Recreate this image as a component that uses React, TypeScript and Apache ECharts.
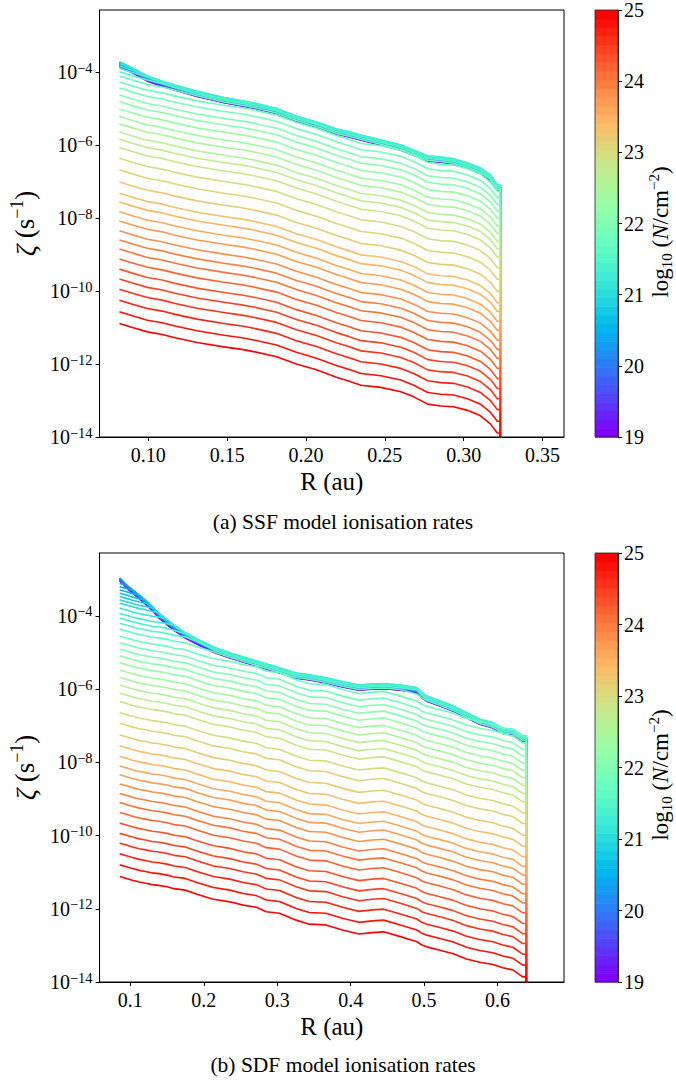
import React, { useEffect, useRef } from "react";
import * as echarts from "echarts";

// ---- data (log10 of ionisation rate) ----
const LEVELS = [
  19, 19.125, 19.25, 19.375, 19.5, 19.625, 19.75, 19.875, 20, 20.125, 20.25, 20.375, 20.5,
  20.625, 20.75, 20.875, 21, 21.125, 21.25, 21.375, 21.5, 21.625, 21.75, 21.875, 22, 22.125,
  22.25, 22.375, 22.5, 22.625, 22.75, 22.875, 23, 23.125, 23.25, 23.375, 23.5, 23.625, 23.75,
  23.875, 24, 24.125, 24.25, 24.375, 24.5, 24.625, 24.75, 24.875, 25,
];

// panel (a) SSF
const R_A = [
  0.0817, 0.0899, 0.0994, 0.1088, 0.117, 0.1309, 0.1479, 0.1593, 0.1668, 0.1813, 0.1939,
  0.2066, 0.2192, 0.2274, 0.2349, 0.2475, 0.2601, 0.2683, 0.2772, 0.2854, 0.2936, 0.3024,
  0.3106, 0.3169, 0.3213,
];
const ENV_A = [
  -3.71, -3.88, -4.11, -4.25, -4.36, -4.53, -4.7, -4.79, -4.85, -5.0, -5.21, -5.37, -5.56,
  -5.64, -5.73, -5.86, -6.0, -6.14, -6.3, -6.33, -6.38, -6.49, -6.63, -6.82, -7.1,
];
const BASE_A = [
  -10.89, -11.0, -11.12, -11.19, -11.28, -11.41, -11.53, -11.6, -11.66, -11.8, -12.0, -12.16,
  -12.36, -12.47, -12.58, -12.64, -12.76, -12.9, -13.1, -13.15, -13.17, -13.27, -13.42,
  -13.64, -13.89,
];
const LEFT_A = [
  -3.7, -3.7, -3.7, -3.7, -3.7, -3.7, -3.7, -3.7, -3.7, -3.7, -3.7, -3.7, -3.7, -3.7, -3.7,
  -3.7, -3.7, -3.78, -3.84, -3.9, -3.99, -4.11, -4.27, -4.44, -4.63, -4.81, -5.01, -5.22,
  -5.42, -5.64, -5.84, -6.07, -6.36, -6.68, -7.01, -7.32, -7.56, -7.83, -8.08, -8.35, -8.6,
  -8.85, -9.12, -9.4, -9.67, -9.95, -10.25, -10.57, -10.89,
];
const EDGE_A = 0.3232;

// panel (b) SDF
const R_B = [
  0.0855, 0.0946, 0.1027, 0.1122, 0.1207, 0.1297, 0.1388, 0.15, 0.1595, 0.1747, 0.1905,
  0.2131, 0.2355, 0.2536, 0.2716, 0.2851, 0.3031, 0.3257, 0.3436, 0.3662, 0.3888, 0.4112,
  0.4293, 0.445, 0.4676, 0.4901, 0.4969, 0.5036, 0.5216, 0.5396, 0.5577, 0.5757, 0.5936,
  0.6072, 0.6207, 0.6342,
];
const ENV_B = [
  -2.9, -3.09, -3.23, -3.39, -3.54, -3.71, -3.91, -4.1, -4.25, -4.46, -4.63, -4.85, -5.01,
  -5.12, -5.23, -5.31, -5.42, -5.56, -5.61, -5.69, -5.8, -5.89, -5.86, -5.85, -5.89, -5.96,
  -6.1, -6.19, -6.32, -6.46, -6.64, -6.82, -6.92, -7.07, -7.1, -7.28,
];
const BASE_B = [
  -11.12, -11.17, -11.22, -11.27, -11.3, -11.34, -11.36, -11.4, -11.45, -11.49, -11.6,
  -11.74, -11.81, -11.9, -11.96, -12.08, -12.12, -12.31, -12.42, -12.44, -12.58, -12.69,
  -12.65, -12.63, -12.76, -12.9, -12.99, -13.04, -13.13, -13.23, -13.37, -13.46, -13.52,
  -13.61, -13.67, -13.86,
];
const LEFT_B = [
  -2.9, -2.9, -2.9, -2.9, -2.9, -2.9, -2.9, -2.9, -2.9, -2.9, -3.11, -3.2, -3.29, -3.38,
  -3.47, -3.56, -3.65, -3.79, -3.93, -4.06, -4.2, -4.36, -4.55, -4.73, -4.91, -5.09, -5.28,
  -5.48, -5.68, -5.89, -6.11, -6.34, -6.64, -6.93, -7.25, -7.55, -7.84, -8.1, -8.34, -8.59,
  -8.85, -9.1, -9.37, -9.66, -9.94, -10.21, -10.5, -10.8, -11.12,
];
const EDGE_B = 0.6392;

// depth (dex) of each low-column line inside the saturated top band
const BAND = [
  0.14, 0.13, 0.12, 0.11, 0.1, 0.09, 0.08, 0.08, 0.07, 0.06, 0.05, 0.04, 0.04, 0.03, 0.03,
  0.02, 0.01, 0.0, 0.0, 0.03, 0.07, 0.12, 0, 0, 0, 0, 0, 0, 0, 0, 0, 0, 0, 0, 0, 0, 0, 0, 0,
  0, 0, 0, 0, 0, 0, 0, 0, 0, 0,
];

const X_TICKS_A = [0.1, 0.15, 0.2, 0.25, 0.3, 0.35];
const X_TICKS_B = [0.1, 0.2, 0.3, 0.4, 0.5, 0.6];
const Y_TICKS = [-14, -12, -10, -8, -6, -4];
const FLOOR = -16;

// ---- styling helpers ----
const FONT = "'Liberation Serif', 'DejaVu Serif', serif";
const MINUS = "\u2212";

function rainbow(t: number): string {
  const r = Math.abs(2 * t - 0.5);
  const g = Math.sin(Math.PI * t);
  const b = Math.cos((Math.PI * t) / 2);
  const c = (v: number) => Math.round(Math.max(0, Math.min(1, v)) * 255);
  return `rgb(${c(r)},${c(g)},${c(b)})`;
}

function buildLines(R: number[], env: number[], base: number[], left: number[], edge: number) {
  return LEVELS.map((_, j) => {
    const off = left[j] - base[0];
    const pts: number[][] = R.map((r, i) => [r, Math.min(env[i] - BAND[j], base[i] + off)]);
    // outer disc edge: every profile ends in a vertical drop at the same radius
    pts.push([edge, pts[pts.length - 1][1]]);
    pts.push([edge, FLOOR]);
    return pts;
  });
}

function lineSeries(lines: number[][][], axis: number) {
  return lines.map((data, j) => ({
    type: "line",
    xAxisIndex: axis,
    yAxisIndex: axis,
    data,
    symbol: "none",
    showSymbol: false,
    silent: true,
    clip: true,
    lineStyle: { width: 1.6, color: rainbow(j / (LEVELS.length - 1)), join: "round" },
    itemStyle: { color: rainbow(j / (LEVELS.length - 1)) },
  }));
}

const txt = { fontFamily: FONT, color: "#000" };

function plotX(grid: number, min: number, max: number, ticks: number[], dec: number) {
  return {
    gridIndex: grid,
    type: "value",
    min,
    max,
    axisLine: { show: true, onZero: false, lineStyle: { color: "#000", width: 1 } },
    axisTick: { show: true, length: 4, customValues: ticks, lineStyle: { color: "#000" } },
    axisLabel: {
      customValues: ticks,
      formatter: (v: number) => v.toFixed(dec),
      ...txt,
      fontSize: 20,
      margin: 8,
    },
    splitLine: { show: false },
    name: "R (au)",
    nameLocation: "middle",
    nameGap: 32,
    nameTextStyle: { ...txt, fontSize: 25 },
  };
}

function plotY(grid: number, max: number) {
  return {
    gridIndex: grid,
    type: "value",
    min: -14,
    max,
    axisLine: { show: true, onZero: false, lineStyle: { color: "#000", width: 1 } },
    axisTick: { show: true, length: 4, customValues: Y_TICKS, lineStyle: { color: "#000" } },
    axisLabel: {
      customValues: Y_TICKS,
      formatter: (v: number) => `{b|10}{e|${MINUS}${Math.abs(v)}}`,
      margin: 7,
      rich: {
        b: { ...txt, fontSize: 20, lineHeight: 24 },
        e: { ...txt, fontSize: 14.5, verticalAlign: "top" },
      },
    },
    splitLine: { show: false },
    name: `{z|ζ}{t| (s}{p|${MINUS}1}{t|)}`,
    nameLocation: "middle",
    nameRotate: 90,
    nameGap: 56,
    nameTextStyle: {
      ...txt,
      fontSize: 27,
      rich: {
        z: { ...txt, fontSize: 28, fontStyle: "italic", lineHeight: 34 },
        t: { ...txt, fontSize: 27, lineHeight: 34 },
        p: { ...txt, fontSize: 18, verticalAlign: "top" },
      },
    },
  };
}

function cbX(grid: number) {
  return { gridIndex: grid, type: "value", min: 0, max: 1, show: false };
}

function cbY(grid: number) {
  return {
    gridIndex: grid,
    type: "value",
    min: 19,
    max: 25,
    interval: 1,
    position: "right",
    axisLine: { show: true, onZero: false, lineStyle: { color: "#000", width: 0.8 } },
    axisTick: { show: true, length: 4, lineStyle: { color: "#000" } },
    axisLabel: { ...txt, fontSize: 20, margin: 6 },
    splitLine: { show: false },
  };
}

function colorbarSeries(axis: number) {
  const lo0 = LEVELS[0];
  const span = LEVELS[LEVELS.length - 1] - LEVELS[0];
  const n = LEVELS.length;
  return {
    type: "custom",
    xAxisIndex: axis,
    yAxisIndex: axis,
    silent: true,
    clip: false,
    data: LEVELS.map((_, j) => [j]),
    renderItem: (_p: any, api: any) => {
      const j = api.value(0);
      const a = api.coord([0, lo0 + (span * j) / n]);
      const b = api.coord([1, lo0 + (span * (j + 1)) / n]);
      return {
        type: "rect",
        shape: { x: a[0], y: b[1], width: b[0] - a[0], height: a[1] - b[1] + 0.6 },
        style: { fill: rainbow(j / (n - 1)) },
      };
    },
  };
}

function cbLabel(x: number, y: number) {
  return {
    type: "text",
    x,
    y,
    rotation: Math.PI / 2,
    silent: true,
    style: {
      text: `{t|log}{s|10}{t| (}{i|N}{t|/cm}{p|${MINUS}2}{t|)}`,
      align: "center",
      verticalAlign: "middle",
      rich: {
        t: { ...txt, fontSize: 23, lineHeight: 28 },
        i: { ...txt, fontSize: 23, fontStyle: "italic", lineHeight: 28 },
        s: { ...txt, fontSize: 15, verticalAlign: "bottom" },
        p: { ...txt, fontSize: 15, verticalAlign: "top" },
      },
    },
  };
}

function caption(text: string, y: number) {
  return {
    type: "text",
    x: 343,
    y,
    silent: true,
    style: {
      text,
      fontFamily: FONT,
      fontSize: 21.5,
      fill: "#000",
      align: "center",
      verticalAlign: "middle",
    },
  };
}

export default function App() {
  const ref = useRef<HTMLDivElement>(null);

  useEffect(() => {
    if (!ref.current) return;
    const chart = echarts.init(ref.current, null, { renderer: "svg" });
    const linesA = buildLines(R_A, ENV_A, BASE_A, LEFT_A, EDGE_A);
    const linesB = buildLines(R_B, ENV_B, BASE_B, LEFT_B, EDGE_B);

    const frame = { show: true, borderColor: "#000", borderWidth: 1, backgroundColor: "transparent", z: 10 };
    const option: any = {
      animation: false,
      backgroundColor: "#fff",
      grid: [
        { left: 97, top: 10, width: 467, height: 427, ...frame },
        { left: 595, top: 10, width: 23, height: 427, ...frame, borderWidth: 0.8, borderColor: "#222" },
        { left: 97, top: 553, width: 467, height: 429, ...frame },
        { left: 595, top: 553, width: 23, height: 429, ...frame, borderWidth: 0.8, borderColor: "#222" },
      ],
      xAxis: [
        plotX(0, 0.0691, 0.3636, X_TICKS_A, 2),
        cbX(1),
        plotX(2, 0.0581, 0.6905, X_TICKS_B, 1),
        cbX(3),
      ],
      yAxis: [plotY(0, -2.3), cbY(1), plotY(2, -2.28), cbY(3)],
      series: [
        ...lineSeries(linesA, 0),
        colorbarSeries(1),
        ...lineSeries(linesB, 2),
        colorbarSeries(3),
      ],
      graphic: [
        caption("(a) SSF model ionisation rates", 522),
        caption("(b) SDF model ionisation rates", 1065),
        cbLabel(660, 232),
        cbLabel(660, 775),
      ],
    };
    chart.setOption(option);
    return () => chart.dispose();
  }, []);

  return (
    <div
      ref={ref}
      style={{ position: "absolute", left: 0, top: 0, width: 676, height: 1084 }}
    />
  );
}
